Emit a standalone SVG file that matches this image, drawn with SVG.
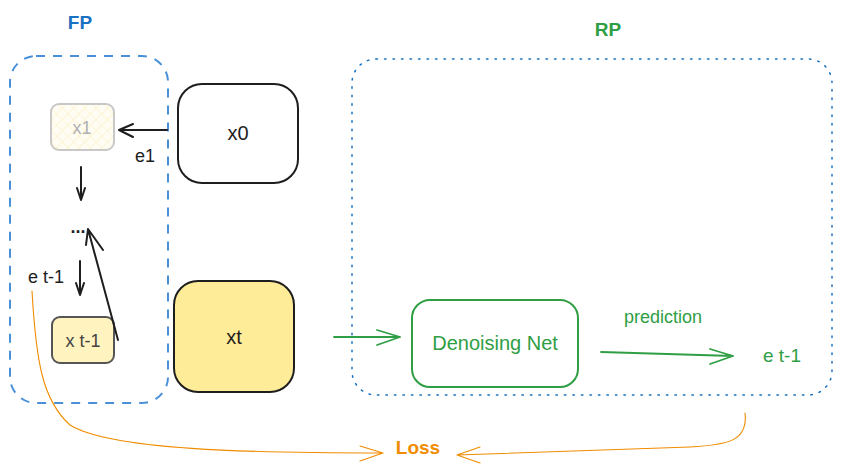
<svg xmlns="http://www.w3.org/2000/svg" width="843" height="469" viewBox="0 0 843 469">
<defs>
<style>
text{font-family:"Liberation Sans","Noto Sans",sans-serif;font-size:18px;text-anchor:middle;fill:#1e1e1e}
.blk{stroke:#1e1e1e;stroke-width:2;fill:none;stroke-linecap:round;stroke-linejoin:round}
.grn{stroke:#2f9e44;stroke-width:1.8;fill:none;stroke-linecap:round;stroke-linejoin:round}
.org{stroke:#f08c00;stroke-width:1.1;fill:none;stroke-linecap:round;stroke-linejoin:round}
</style>
<pattern id="hatch" width="8" height="8" patternUnits="userSpaceOnUse" patternTransform="rotate(45)">
<rect width="8" height="8" fill="#fffdf3"/>
<path d="M0 0V8M0 0H8" stroke="#fbefc0" stroke-width="1.2"/>
</pattern>
</defs>
<rect width="843" height="469" fill="#ffffff"/>

<g id="fp-group">
<rect x="10" y="56" width="158" height="347" rx="26" fill="none" stroke="#4a90d9" stroke-width="2" stroke-dasharray="9 8"/>
<text x="80" y="29" style="fill:#1971c2;font-size:19px;font-weight:bold">FP</text>
</g>
<g id="rp-group">
<rect x="352" y="59" width="480" height="336" rx="24" fill="none" stroke="#1971c2" stroke-width="1.5" stroke-dasharray="1.5 7" stroke-linecap="round"/>
<text x="608" y="36" style="fill:#2f9e44;font-size:19px;font-weight:bold">RP</text>
</g>

<g id="x1">
<rect x="51" y="104" width="63" height="46" rx="8" fill="url(#hatch)" stroke="#c8c8c8" stroke-width="2"/>
<text x="82" y="134" style="fill:#b0b0b0">x1</text>
</g>
<g id="x0">
<rect x="178" y="84" width="120" height="99" rx="24" fill="#ffffff" stroke="#1e1e1e" stroke-width="2"/>
<text x="238" y="140" style="font-size:20px">x0</text>
</g>
<g id="dots"><text x="78" y="233" style="font-weight:bold">...</text></g>
<g id="e-t-1-label"><text x="46" y="283">e t-1</text></g>
<g id="e1-label"><text x="145" y="162">e1</text></g>
<g id="xt-1">
<rect x="52" y="317" width="62" height="46" rx="8" fill="#fff3bf" stroke="#555555" stroke-width="2"/>
<text x="83" y="347" style="fill:#444444">x t-1</text>
</g>
<g id="xt">
<rect x="174" y="281" width="120" height="111" rx="24" fill="#ffec99" stroke="#1e1e1e" stroke-width="2"/>
<text x="234" y="344" style="font-size:20px">xt</text>
</g>
<g id="denoising-net">
<rect x="412" y="300" width="166" height="87" rx="18" fill="#ffffff" stroke="#2f9e44" stroke-width="2"/>
<text x="495" y="350" style="fill:#2f9e44;font-size:20px">Denoising Net</text>
</g>
<g id="prediction-label"><text x="663" y="323" style="fill:#2f9e44">prediction</text></g>
<g id="e-t-1-pred"><text x="782" y="362" style="fill:#2f9e44;font-size:19px">e t-1</text></g>
<g id="loss"><text x="418" y="454" style="fill:#f08c00;font-size:19px;font-weight:bold">Loss</text></g>

<g id="connectors">
<path class="blk" d="M167 130H119M133 124L119 130L133 137"/>
<path class="blk" d="M81 167V199M77 188L81 200L85 188"/>
<path class="blk" d="M118 340L88 229M86 245L88 229L103 250"/>
<path class="blk" d="M80 261V294M76 283L80 295L84 283"/>
<path class="grn" d="M334 337H400M377 330L400 337L377 345"/>
<path class="grn" d="M601 352L733 356M710 349L733 356L710 364"/>
<path class="org" d="M32 291C36 360 42 400 70 425C110 450 250 453 383 453M360 446L383 453L360 461"/>
<path class="org" d="M745 413C748 440 730 445 690 447L457 455M480 447L457 455L480 463"/>
</g>
</svg>
